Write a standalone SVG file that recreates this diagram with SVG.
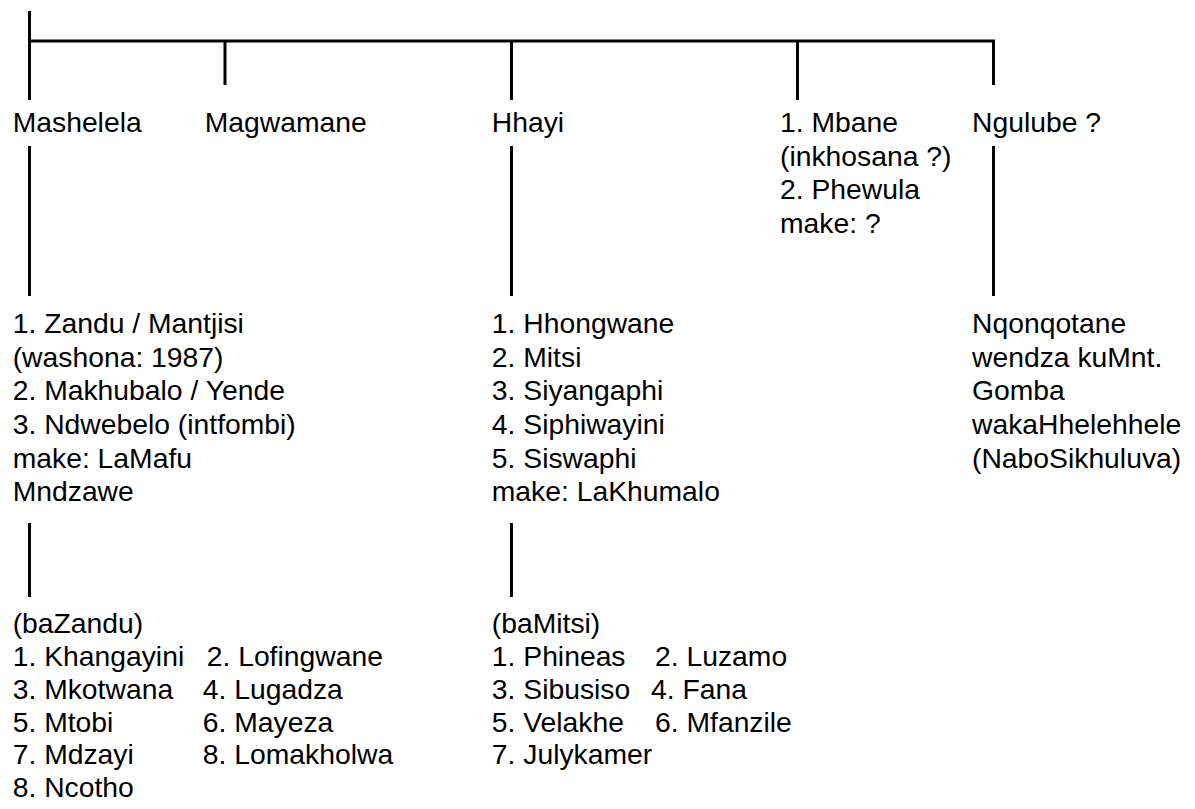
<svg xmlns="http://www.w3.org/2000/svg" width="1195" height="809" viewBox="0 0 1195 809">
<style>
text{font-family:"Liberation Sans",Arial,sans-serif;font-size:28.3px;fill:#000}
.ln{stroke:#000;stroke-width:3;fill:none;stroke-linecap:butt}
</style>
<rect width="1195" height="809" fill="#fff"/>
<g id="connectors">
<path class="ln" d="M29.5 11V100M28 41H993.5V85M225 41V85M511.5 41V100M797.5 41V100"/>
<path class="ln" d="M29.5 146V296M511.5 146V296M993.5 146V296"/>
<path class="ln" d="M29.5 523V597M511.5 523V597"/>
</g>
<g id="mashelela"><text x="12.7" y="132">Mashelela</text></g>
<g id="magwamane"><text x="204.7" y="132">Magwamane</text></g>
<g id="hhayi"><text x="491.8" y="132">Hhayi</text></g>
<g id="mbane"><text x="780" y="132">1. Mbane</text><text x="780" y="165.5">(inkhosana ?)</text><text x="780" y="199">2. Phewula</text><text x="780" y="232.5">make: ?</text></g>
<g id="ngulube"><text x="972" y="132">Ngulube ?</text></g>
<g id="zandu"><text x="12.7" y="333">1. Zandu / Mantjisi</text><text x="12.7" y="366.5">(washona: 1987)</text><text x="12.7" y="400">2. Makhubalo / Yende</text><text x="12.7" y="434">3. Ndwebelo (intfombi)</text><text x="12.7" y="467.5">make: LaMafu</text><text x="12.7" y="501">Mndzawe</text></g>
<g id="hhongwane"><text x="491.8" y="333">1. Hhongwane</text><text x="491.8" y="366.5">2. Mitsi</text><text x="491.8" y="400">3. Siyangaphi</text><text x="491.8" y="434">4. Siphiwayini</text><text x="491.8" y="467.5">5. Siswaphi</text><text x="491.8" y="501">make: LaKhumalo</text></g>
<g id="nqonqotane"><text x="972" y="333">Nqonqotane</text><text x="972" y="366.5">wendza kuMnt.</text><text x="972" y="400">Gomba</text><text x="972" y="434">wakaHhelehhele</text><text x="972" y="467.5">(NaboSikhuluva)</text></g>
<g id="bazandu"><text x="12.7" y="633">(baZandu)</text><text x="12.7" y="666">1. Khangayini</text><text x="206.7" y="666">2. Lofingwane</text><text x="12.7" y="699">3. Mkotwana</text><text x="202.8" y="699">4. Lugadza</text><text x="12.7" y="731.5">5. Mtobi</text><text x="202.8" y="731.5">6. Mayeza</text><text x="12.7" y="764">7. Mdzayi</text><text x="202.8" y="764">8. Lomakholwa</text><text x="12.7" y="797">8. Ncotho</text></g>
<g id="bamitsi"><text x="491.8" y="633">(baMitsi)</text><text x="491.8" y="666">1. Phineas</text><text x="655" y="666">2. Luzamo</text><text x="491.8" y="699">3. Sibusiso</text><text x="651" y="699">4. Fana</text><text x="491.8" y="731.5">5. Velakhe</text><text x="655" y="731.5">6. Mfanzile</text><text x="491.8" y="764">7. Julykamer</text></g>
</svg>
